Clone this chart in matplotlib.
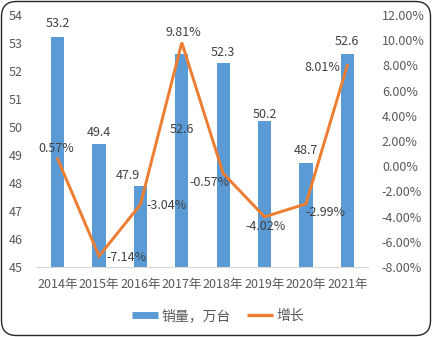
import matplotlib
matplotlib.use("Agg")
import matplotlib.pyplot as plt
from matplotlib.lines import Line2D
from matplotlib.patches import FancyBboxPatch
import numpy as np

plt.rcParams['font.family'] = ['Noto Sans CJK SC', 'DejaVu Sans']

years = ["2014年", "2015年", "2016年", "2017年", "2018年", "2019年", "2020年", "2021年"]
sales = [53.2, 49.4, 47.9, 52.6, 52.3, 50.2, 48.7, 52.6]
growth = [0.57, -7.14, -3.04, 9.81, -0.57, -4.02, -2.99, 8.01]
left_ticks = [45, 46, 47, 48, 49, 50, 51, 52, 53, 54]
right_ticks = [-8, -6, -4, -2, 0, 2, 4, 6, 8, 10, 12]

BLUE = "#5B9BD5"
ORANGE = "#ED7D31"
TXT = "#595959"
LBL = "#404040"
FS = 9.0

fig = plt.figure(figsize=(4.32, 3.37), dpi=100)
ax = fig.add_axes([37/432, 70/337, 331/432, 252/337])
x = np.arange(len(years))
bars = ax.bar(x, sales, width=0.32, color=BLUE, zorder=2)
ax.set_ylim(45, 54)
ax.set_xlim(-0.5, len(years) - 0.5)
ax.set_yticks(left_ticks)
ax.set_xticks(x)
ax.set_xticklabels(years)
ax.tick_params(axis='both', length=0, colors=TXT, labelsize=FS)
ax.tick_params(axis='y', pad=10)
ax.tick_params(axis='x', pad=8)
for s in ['top', 'left', 'right']:
    ax.spines[s].set_visible(False)
ax.spines['bottom'].set_color("#D9D9D9")

ax2 = ax.twinx()
ax2.plot(x, growth, color=ORANGE, lw=2.1, solid_joinstyle='miter', zorder=3)
ax2.set_ylim(-8, 12)
ax2.set_yticks(right_ticks)
ax2.set_yticklabels([f"{v:.2f}%" for v in right_ticks])
ax2.tick_params(axis='y', length=0, colors=TXT, labelsize=FS, pad=10)
for s in ['top', 'left', 'right', 'bottom']:
    ax2.spines[s].set_visible(False)

# bar value labels (offsets in pixels)
bar_offsets = [(0, 14), (0, 11), (-13, 10), (0, -75), (0, 10), (0, 7), (0, 13), (0, 13)]
for xi, v, off in zip(x, sales, bar_offsets):
    ax.annotate(f"{v}", (xi, v), xytext=off, textcoords='offset pixels',
                ha='center', va='center', fontsize=FS, color=LBL, zorder=5)

# growth labels
g_offsets = [(-1, 11), (27, -1), (26, -1), (2, 10), (-14, -9), (1, -10), (19, -9), (-25, -2)]
for xi, v, off in zip(x, growth, g_offsets):
    ax2.annotate(f"{v:.2f}%", (xi, v), xytext=off, textcoords='offset pixels',
                 ha='center', va='center', fontsize=FS, color=LBL, zorder=5)

handles = [Line2D([], [], color=BLUE, lw=5, solid_capstyle='butt'),
           Line2D([], [], color=ORANGE, lw=2.4, solid_capstyle='butt')]
fig.legend(handles, ["销量，万台", "增长"], loc='center', bbox_to_anchor=(218/432, 1 - 316/337),
           ncol=2, frameon=False, fontsize=10, handlelength=1.9, handletextpad=0.25,
           columnspacing=1.15, labelcolor=TXT)

border = FancyBboxPatch((1.5/432, 1.5/337), 429/432, 334/337,
                        boxstyle="round,pad=0,rounding_size=0.035",
                        transform=fig.transFigure, fill=False, edgecolor="#262626", lw=1.0,
                        mutation_aspect=432/337)
fig.patches.append(border)

fig.savefig("out.png", dpi=100)
